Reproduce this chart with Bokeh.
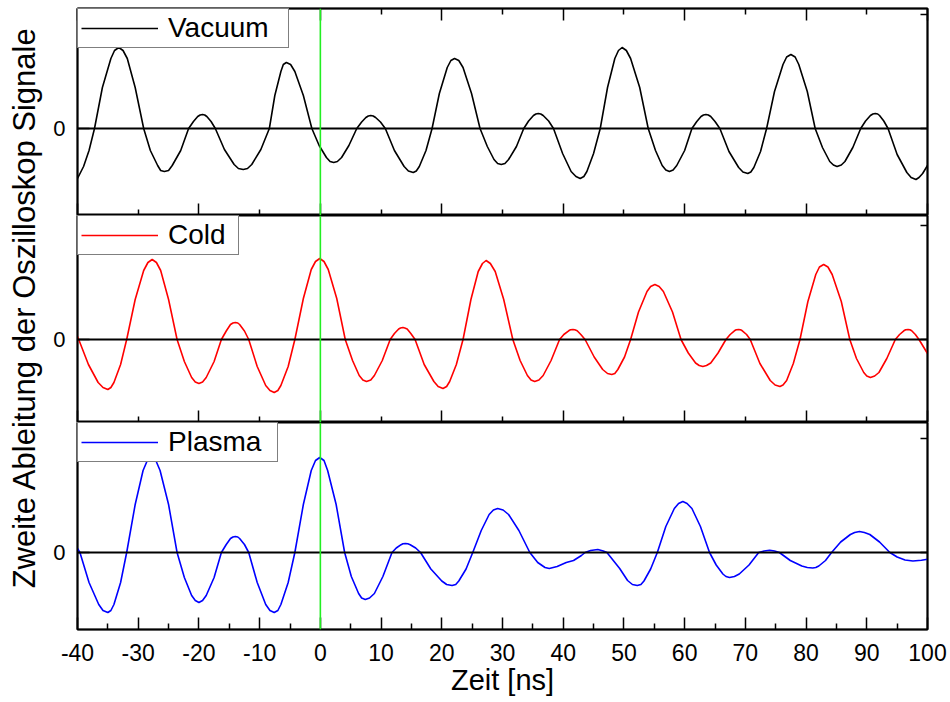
from math import pi
from bokeh.plotting import figure
from bokeh.layouts import column, row
from bokeh.models import (Range1d, FixedTicker, LinearAxis, Span, Legend,
                          LegendItem, Label, ColumnDataSource)
from bokeh.embed import file_html
from bokeh.resources import INLINE

FONT = "Liberation Sans"

# ---------------- data (arbitrary units) ----------------
vac_t = [-40.0, -39.0, -38.1, -37.2,
         -35.9, -34.5, -33.9, -33.2, -32.5, -31.8, -30.5, -29.1,
         -28.0, -26.8, -26.3, -25.7, -25.0, -24.4, -23.0, -21.7,
         -20.9, -20.2, -19.8, -19.4, -19.05, -18.7, -18.0, -17.3,
         -15.8, -14.2, -13.5, -12.7, -12.0, -11.3, -9.8, -8.4,
         -7.5, -6.5, -6.1, -5.6, -4.9, -4.2, -2.8, -1.4,
         -0.2, 1.0, 1.6, 2.2, 2.8, 3.5, 4.7, 6.0,
         6.8, 7.5, 7.9, 8.3, 8.7, 9.1, 9.9, 10.7,
         12.2, 13.8, 14.5, 15.3, 15.8, 16.3, 17.4, 18.4,
         19.6, 20.9, 21.5, 22.1, 22.8, 23.5, 24.9, 26.3,
         27.5, 28.6, 29.2, 29.8, 30.4, 31.0, 32.3, 33.5,
         34.3, 35.1, 35.5, 35.9, 36.3, 36.7, 37.6, 38.4,
         39.9, 41.3, 42.1, 42.8, 43.4, 43.9, 45.0, 46.1,
         47.3, 48.5, 49.1, 49.7, 50.4, 51.1, 52.6, 54.0,
         55.2, 56.3, 56.9, 57.5, 58.1, 58.7, 60.0, 61.2,
         62.0, 62.7, 63.1, 63.5, 63.9, 64.3, 65.0, 65.8,
         67.3, 68.9, 69.6, 70.4, 70.9, 71.4, 72.5, 73.5,
         74.8, 76.2, 76.8, 77.5, 78.2, 78.8, 80.2, 81.5,
         82.7, 83.9, 84.5, 85.1, 85.8, 86.4, 87.7, 89.0,
         89.8, 90.6, 91.0, 91.4, 91.8, 92.1, 92.8, 93.5,
         95.0, 96.6, 97.3, 98.1, 98.6, 99.2, 100.0]
vac_v = [-0.50, -0.38, -0.22, 0.0,
         0.41, 0.70, 0.78, 0.81, 0.78, 0.70, 0.41, 0.0,
         -0.22, -0.37, -0.42, -0.43, -0.42, -0.37, -0.22, 0.0,
         0.07, 0.12, 0.135, 0.14, 0.135, 0.12, 0.07, 0.0,
         -0.21, -0.36, -0.40, -0.41, -0.40, -0.36, -0.21, 0.0,
         0.33, 0.57, 0.64, 0.66, 0.64, 0.57, 0.33, 0.0,
         -0.17, -0.29, -0.33, -0.34, -0.33, -0.29, -0.17, 0.0,
         0.065, 0.11, 0.125, 0.13, 0.125, 0.11, 0.065, 0.0,
         -0.22, -0.38, -0.425, -0.44, -0.425, -0.38, -0.22, 0.0,
         0.35, 0.61, 0.68, 0.70, 0.68, 0.61, 0.35, 0.0,
         -0.18, -0.31, -0.35, -0.36, -0.35, -0.31, -0.18, 0.0,
         0.075, 0.13, 0.145, 0.15, 0.145, 0.13, 0.075, 0.0,
         -0.25, -0.43, -0.48, -0.50, -0.48, -0.43, -0.25, 0.0,
         0.41, 0.70, 0.78, 0.81, 0.78, 0.70, 0.41, 0.0,
         -0.22, -0.37, -0.415, -0.43, -0.415, -0.37, -0.22, 0.0,
         0.07, 0.12, 0.135, 0.14, 0.135, 0.12, 0.07, 0.0,
         -0.23, -0.39, -0.435, -0.45, -0.435, -0.39, -0.23, 0.0,
         0.37, 0.64, 0.715, 0.74, 0.715, 0.64, 0.37, 0.0,
         -0.19, -0.33, -0.365, -0.38, -0.365, -0.33, -0.19, 0.0,
         0.075, 0.13, 0.145, 0.15, 0.145, 0.13, 0.075, 0.0,
         -0.26, -0.44, -0.49, -0.51, -0.49, -0.45, -0.37]

cold_t = [-40.0, -39.8,
          -38.2, -36.6, -35.8, -35.0, -34.5, -34.0, -32.9, -31.9,
          -30.5, -29.1, -28.4, -27.7, -27.0, -26.3, -25.0, -23.6,
          -22.4, -21.2, -20.6, -20.0, -19.4, -18.8, -17.5, -16.3,
          -15.5, -14.8, -14.4, -14.0, -13.6, -13.3, -12.5, -11.8,
          -10.4, -9.0, -8.3, -7.6, -7.0, -6.5, -5.3, -4.2,
          -2.8, -1.5, -0.8, -0.1, 0.6, 1.3, 2.7, 4.1,
          5.3, 6.4, 7.0, 7.6, 8.3, 8.9, 10.2, 11.5,
          12.2, 12.9, 13.2, 13.6, 13.9, 14.3, 14.9, 15.6,
          17.1, 18.7, 19.4, 20.2, 20.8, 21.3, 22.4, 23.5,
          24.8, 26.0, 26.7, 27.3, 28.0, 28.8, 30.2, 31.7,
          32.9, 34.1, 34.7, 35.3, 36.0, 36.7, 38.0, 39.4,
          40.1, 40.9, 41.2, 41.6, 41.9, 42.3, 42.9, 43.6,
          45.1, 46.5, 47.3, 48.0, 48.5, 49.0, 50.1, 51.1,
          52.4, 53.8, 54.4, 55.1, 55.8, 56.5, 58.0, 59.4,
          60.6, 61.8, 62.4, 63.0, 63.6, 64.3, 65.5, 66.8,
          67.5, 68.2, 68.5, 68.9, 69.2, 69.5, 70.2, 70.8,
          72.4, 74.1, 74.9, 75.7, 76.2, 76.8, 77.9, 79.0,
          80.3, 81.6, 82.2, 82.9, 83.6, 84.3, 85.8, 87.2,
          88.3, 89.5, 90.0, 90.6, 91.3, 92.0, 93.3, 94.7,
          95.4, 96.1, 96.4, 96.8, 97.1, 97.4, 98.0, 98.6,
          99.3, 100.0]
cold_v = [0.03, 0.0,
          -0.25, -0.43, -0.48, -0.50, -0.48, -0.43, -0.25, 0.0,
          0.40, 0.69, 0.77, 0.80, 0.77, 0.69, 0.40, 0.0,
          -0.22, -0.38, -0.425, -0.44, -0.425, -0.38, -0.22, 0.0,
          0.085, 0.15, 0.165, 0.17, 0.165, 0.15, 0.085, 0.0,
          -0.27, -0.46, -0.51, -0.53, -0.51, -0.46, -0.27, 0.0,
          0.41, 0.70, 0.78, 0.81, 0.78, 0.70, 0.41, 0.0,
          -0.21, -0.36, -0.405, -0.42, -0.405, -0.36, -0.21, 0.0,
          0.06, 0.105, 0.115, 0.12, 0.115, 0.105, 0.06, 0.0,
          -0.25, -0.42, -0.47, -0.49, -0.47, -0.42, -0.25, 0.0,
          0.40, 0.68, 0.76, 0.79, 0.76, 0.68, 0.40, 0.0,
          -0.21, -0.36, -0.405, -0.42, -0.405, -0.36, -0.21, 0.0,
          0.05, 0.087, 0.097, 0.10, 0.097, 0.087, 0.05, 0.0,
          -0.175, -0.30, -0.34, -0.35, -0.34, -0.30, -0.175, 0.0,
          0.275, 0.48, 0.53, 0.55, 0.53, 0.48, 0.275, 0.0,
          -0.135, -0.235, -0.26, -0.27, -0.26, -0.235, -0.135, 0.0,
          0.05, 0.087, 0.097, 0.10, 0.097, 0.087, 0.05, 0.0,
          -0.24, -0.41, -0.455, -0.47, -0.455, -0.41, -0.24, 0.0,
          0.38, 0.65, 0.725, 0.75, 0.725, 0.65, 0.38, 0.0,
          -0.19, -0.33, -0.365, -0.38, -0.365, -0.33, -0.19, 0.0,
          0.05, 0.087, 0.097, 0.10, 0.097, 0.087, 0.05, 0.0,
          -0.07, -0.14]

plasma_t = [-40.0, -39.6,
            -38.1, -36.5, -35.8, -35.0, -34.5, -34.0, -32.9, -31.9,
            -30.5, -29.2, -28.5, -27.8, -27.1, -26.4, -25.0, -23.6,
            -22.4, -21.2, -20.6, -20.0, -19.4, -18.8, -17.5, -16.3,
            -15.5, -14.8, -14.4, -14.0, -13.6, -13.3, -12.5, -11.8,
            -10.4, -9.0, -8.3, -7.6, -7.0, -6.5, -5.3, -4.2,
            -2.8, -1.5, -0.8, -0.1, 0.6, 1.2, 2.6, 4.0,
            5.1, 6.3, 6.8, 7.4, 8.1, 8.9, 10.3, 11.8,
            12.5, 13.3, 13.6, 14.0, 14.4, 14.8, 15.7, 16.5,
            18.2, 20.0, 20.8, 21.7, 22.3, 22.8, 24.0, 25.1,
            26.5, 27.8, 28.5, 29.2, 30.1, 31.0, 32.7, 34.5,
            35.8, 37.0, 37.7, 39.0, 40.5, 41.7, 43.0, 43.6, 44.5, 45.7, 46.6, 47.2,
            49.3, 50.6, 51.4, 52.2, 52.8, 53.3, 54.4, 55.5,
            56.9, 58.3, 59.0, 59.7, 60.4, 61.2, 62.6, 64.1,
            65.2, 66.3, 66.8, 67.4, 68.2, 69.0, 70.6, 72.2,
            73.1, 74.0, 74.8, 75.6,
            77.4, 79.3, 80.2, 81.1, 81.6, 82.1, 83.2, 84.2,
            85.7, 87.3, 88.0, 88.8, 89.6, 90.5, 92.1, 93.8,
            95.0, 96.3, 97.6, 99.0, 100.0]
plasma_v = [0.04, 0.0,
            -0.30, -0.52, -0.58, -0.60, -0.58, -0.52, -0.30, 0.0,
            0.48, 0.82, 0.92, 0.95, 0.92, 0.82, 0.48, 0.0,
            -0.25, -0.43, -0.48, -0.50, -0.48, -0.43, -0.25, 0.0,
            0.08, 0.14, 0.155, 0.16, 0.155, 0.14, 0.08, 0.0,
            -0.30, -0.52, -0.58, -0.60, -0.58, -0.52, -0.30, 0.0,
            0.48, 0.82, 0.92, 0.95, 0.92, 0.82, 0.48, 0.0,
            -0.24, -0.41, -0.455, -0.47, -0.455, -0.41, -0.24, 0.0,
            0.045, 0.078, 0.087, 0.09, 0.087, 0.078, 0.045, 0.0,
            -0.165, -0.285, -0.32, -0.33, -0.32, -0.285, -0.165, 0.0,
            0.22, 0.38, 0.425, 0.44, 0.425, 0.38, 0.22, 0.0,
            -0.10, -0.15, -0.16, -0.14, -0.10, -0.08, -0.03, 0.0, 0.02, 0.03, 0.015, 0.0,
            -0.16, -0.28, -0.32, -0.33, -0.32, -0.285, -0.165, 0.0,
            0.26, 0.44, 0.49, 0.51, 0.49, 0.44, 0.26, 0.0,
            -0.125, -0.215, -0.24, -0.25, -0.24, -0.215, -0.125, 0.0,
            0.015, 0.023, 0.015, 0.0,
            -0.08, -0.135, -0.15, -0.155, -0.15, -0.135, -0.08, 0.0,
            0.105, 0.18, 0.20, 0.21, 0.20, 0.18, 0.105, 0.0,
            -0.045, -0.075, -0.085, -0.078, -0.067]

series_names = ["Vacuum", "Cold", "Plasma"]
series_colors = ["black", "#ff0000", "#0000ff"]
x_tick_labels = [-40, -30, -20, -10, 0, 10, 20, 30, 40, 50, 60, 70, 80, 90, 100]
x_major_coarse = [-40, -20, 0, 20, 40, 60, 80, 100]
x_minor_coarse = [-30, -10, 10, 30, 50, 70, 90]
x_minor_fine = [-35, -25, -15, -5, 5, 15, 25, 35, 45, 55, 65, 75, 85, 95]
y_ticks_right = [0, 1.14]
y_ranges = [(-0.87, 1.20), (-0.83, 1.24), (-0.77, 1.30)]

FRAME_W = 850
FRAME_H = 207
LEFT_W = 44


def x_axis(major, minor, labels):
    ax = LinearAxis(ticker=FixedTicker(ticks=major, minor_ticks=minor),
                    major_tick_in=12, major_tick_out=0,
                    minor_tick_in=6, minor_tick_out=0,
                    axis_line_color="black", axis_line_width=1.5,
                    major_tick_line_width=1.5, minor_tick_line_width=1.5,
                    major_tick_line_color="black", minor_tick_line_color="black")
    if labels:
        ax.major_label_overrides = {t: str(t) for t in major}
        ax.major_label_text_font = FONT
        ax.major_label_text_font_size = "23px"
        ax.major_label_text_color = "black"
        ax.major_label_standoff = 14
        ax.axis_label = "Zeit [ns]"
        ax.axis_label_text_font = FONT
        ax.axis_label_text_font_size = "29px"
        ax.axis_label_text_font_style = "normal"
        ax.axis_label_text_color = "black"
        ax.axis_label_standoff = 0
    else:
        ax.major_label_text_font_size = "0px"
        ax.major_label_text_color = None
        ax.major_label_standoff = 0
    return ax


def make_panel(idx, t, v, top_axis, fine_bottom, mb_top, mb_bottom, label_width):
    lo, hi = y_ranges[idx]
    p = figure(width=33 + FRAME_W + 23, height=mb_top + FRAME_H + mb_bottom,
               x_range=Range1d(-40, 100), y_range=Range1d(lo, hi),
               output_backend="svg", toolbar_location=None,
               x_axis_location=None, y_axis_location=None)
    p.min_border_left = 33
    p.min_border_right = 23
    p.min_border_top = mb_top
    p.min_border_bottom = mb_bottom
    p.xgrid.grid_line_color = None
    p.ygrid.grid_line_color = None
    p.outline_line_color = "black"
    p.outline_line_width = 2
    p.background_fill_color = "white"
    p.border_fill_color = "white"

    if fine_bottom:
        p.add_layout(x_axis(x_tick_labels, x_minor_fine, True), "below")
    else:
        p.add_layout(x_axis(x_major_coarse, x_minor_coarse, False), "below")
    if top_axis:
        p.add_layout(x_axis(x_major_coarse, x_minor_coarse, False), "above")

    left = LinearAxis(ticker=FixedTicker(ticks=[0], minor_ticks=[]),
                      major_tick_in=12, major_tick_out=0,
                      minor_tick_in=0, minor_tick_out=0,
                      axis_line_color="black", axis_line_width=1.5,
                      major_tick_line_width=1.5,
                      major_label_text_font=FONT, major_label_text_font_size="22px",
                      major_label_text_color="black", major_label_standoff=12)
    p.add_layout(left, "left")
    right = LinearAxis(ticker=FixedTicker(ticks=y_ticks_right, minor_ticks=[]),
                       major_tick_in=7, major_tick_out=0,
                       minor_tick_in=0, minor_tick_out=0,
                       axis_line_color="black", axis_line_width=1.5,
                       major_tick_line_width=1.5,
                       major_label_text_font_size="0px", major_label_text_color=None,
                       major_label_standoff=0)
    p.add_layout(right, "right")

    p.add_layout(Span(location=0, dimension="width", line_color="black", line_width=2))
    src = ColumnDataSource(dict(t=t, v=v))
    r = p.line("t", "v", source=src, line_color=series_colors[idx], line_width=1.6,
               line_join="round")
    p.add_layout(Span(location=0, dimension="height", line_color="#22ee22", line_width=1.6))

    leg = Legend(items=[LegendItem(label=series_names[idx], renderers=[r])],
                 location="top_left", margin=0, padding=3, spacing=0,
                 glyph_width=77, glyph_height=20, label_standoff=10,
                 label_width=label_width, label_height=20,
                 label_text_font=FONT, label_text_font_size="28px",
                 label_text_color="black",
                 border_line_color="black", border_line_width=1.5,
                 background_fill_color="white", background_fill_alpha=1.0)
    p.add_layout(leg)
    return p


f1 = make_panel(0, vac_t, vac_v, True, False, 8, 0, 117)
f2 = make_panel(1, cold_t, cold_v, False, False, 0, 0, 67)
f3 = make_panel(2, plasma_t, plasma_v, False, True, 0, 73, 106)

lab = figure(width=LEFT_W, height=702, x_range=Range1d(0, LEFT_W), y_range=Range1d(0, 702),
             output_backend="svg", toolbar_location=None,
             x_axis_location=None, y_axis_location=None, min_border=0)
lab.outline_line_color = None
lab.xgrid.grid_line_color = None
lab.ygrid.grid_line_color = None
lab.add_layout(Label(x=24, y=395, text="Zweite Ableitung der Oszilloskop Signale",
                     angle=pi / 2, text_align="center", text_baseline="middle",
                     text_font=FONT, text_font_size="31px", text_color="black"))

layout = row(lab, column(f1, f2, f3, spacing=0), spacing=0)

open("out.html", "w").write(file_html(layout, INLINE))
